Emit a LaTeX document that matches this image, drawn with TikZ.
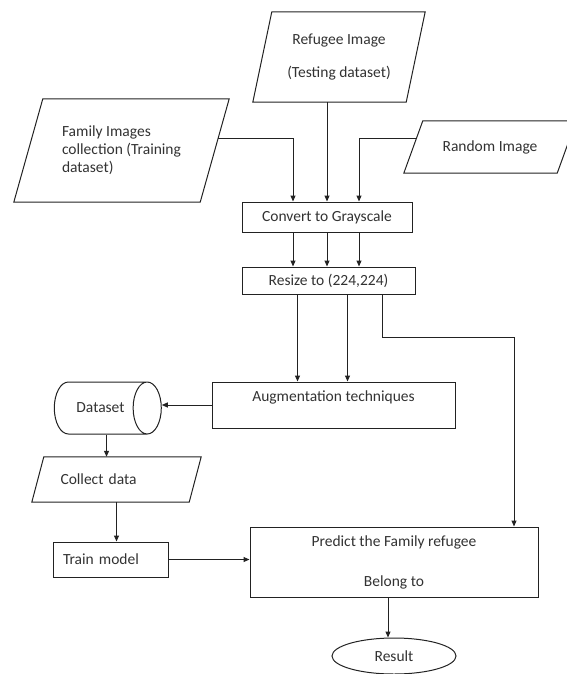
\documentclass[tikz,border=0pt]{standalone}
\usepackage{fontspec}
\setmainfont{Carlito}
\usepackage{tikz}
\usetikzlibrary{calc,positioning,arrows.meta,shapes.geometric}
\definecolor{inkline}{RGB}{34,34,34}
\definecolor{inktext}{RGB}{50,50,50}
\newcommand{\slantframe}[2]{% outline of a data box: node name, slant
  \draw[flowline] ([xshift=#2]#1.north west) -- (#1.north east)
    -- ([xshift=-#2]#1.south east) -- (#1.south west) -- cycle;}
\tikzset{
  flowline/.style={draw=inkline, line width=1pt},
  arr/.style={flowline, -{Triangle[length=6pt,width=5pt]}},
  procbox/.style={rectangle, draw=inkline, line width=1pt, text=inktext,
                  inner sep=0pt, align=center},
  iobox/.style={rectangle, text=inktext, inner sep=0pt},
  dbnode/.style={cylinder, draw=inkline, line width=1pt, text=inktext,
                 aspect=2.8, inner sep=0pt},
  endnode/.style={ellipse, draw=inkline, line width=1pt, text=inktext,
                  inner sep=0pt},
}

\begin{document}
\begin{tikzpicture}[x=1pt, y=-1pt, font={\fontsize{15.5}{18}\selectfont}]
  \useasboundingbox (0,0) rectangle (566,674);

  % inputs
  \node[iobox, minimum width=172pt, minimum height=90pt, align=center] (refugee) at (339,57)
    {Refugee Image\\[15pt](Testing dataset)};
  \node[iobox, minimum width=215pt, minimum height=103pt, align=left] (family) at (121.5,150.5)
    {Family Images\\collection (Training\\dataset)};
  \node[iobox, minimum width=172pt, minimum height=52pt] (random) at (490,147)
    {Random Image};
  \slantframe{refugee}{19pt}
  \slantframe{family}{29pt}
  \slantframe{random}{19pt}

  % preprocessing
  \node[procbox, minimum width=170pt, minimum height=30pt] (gray) at (327,217)
    {Convert to Grayscale};
  \node[procbox, minimum width=173pt, minimum height=27pt] (resize) at (328.5,280.5)
    {Resize to (224,224)};
  \node[procbox, minimum width=243pt, minimum height=46pt] (augment) at (333.5,405)
    {Augmentation techniques\\[0pt]~};

  % training branch
  \node[dbnode, minimum width=52pt, minimum height=107pt] (dataset) at (100.5,408)
    {Dataset};
  \node[iobox, minimum width=169pt, minimum height=45pt, text width=112pt, align=left]
    (collect) at (116.5,479.5) {Collect data};
  \slantframe{collect}{12pt}
  \node[procbox, minimum height=35pt, text width=95pt, inner xsep=10pt, align=left]
    (train) at (110.5,559.5) {Train model};

  % prediction
  \node[procbox, minimum width=288pt, minimum height=70pt] (predict) at (394,562)
    {Predict the Family refugee\\[22pt]Belong to};
  \node[endnode, minimum width=124pt, minimum height=36pt] (result) at (394,656)
    {Result};
  \coordinate (bend) at (514,337);

  % connectors
  \draw[arr] ($(family.north east)!0.388!([xshift=-29pt]family.south east)$)
    -| ([xshift=-34pt]gray.north);
  \draw[arr] (refugee.south -| gray.north) -- (gray.north);
  \draw[arr] ($([xshift=19pt]random.north west)!0.346!(random.south west)$)
    -| ([xshift=32pt]gray.north);
  \foreach \dx in {-34,0,32}
    \draw[arr] ([xshift=\dx pt]gray.south) -- ([xshift=\dx pt]gray.south |- resize.north);
  \foreach \dx in {-31,19}
    \draw[arr] ([xshift=\dx pt]resize.south) -- ([xshift=\dx pt]resize.south |- augment.north);
  \draw[arr] ([xshift=54pt]resize.south) |- (bend) -- (bend |- predict.north);
  \draw[arr] (augment.west) -- (augment.west -| dataset.east);
  \draw[arr] ([xshift=6pt]dataset.south) -- ([xshift=6pt]dataset.south |- collect.north);
  \draw[arr] (collect.south) -- (collect.south |- train.north);
  \draw[arr] (train.east) -- (train.east -| predict.west);
  \draw[arr] ([xshift=-6pt]predict.south) -- ([xshift=-6pt]predict.south |- result.north);
\end{tikzpicture}
\end{document}
